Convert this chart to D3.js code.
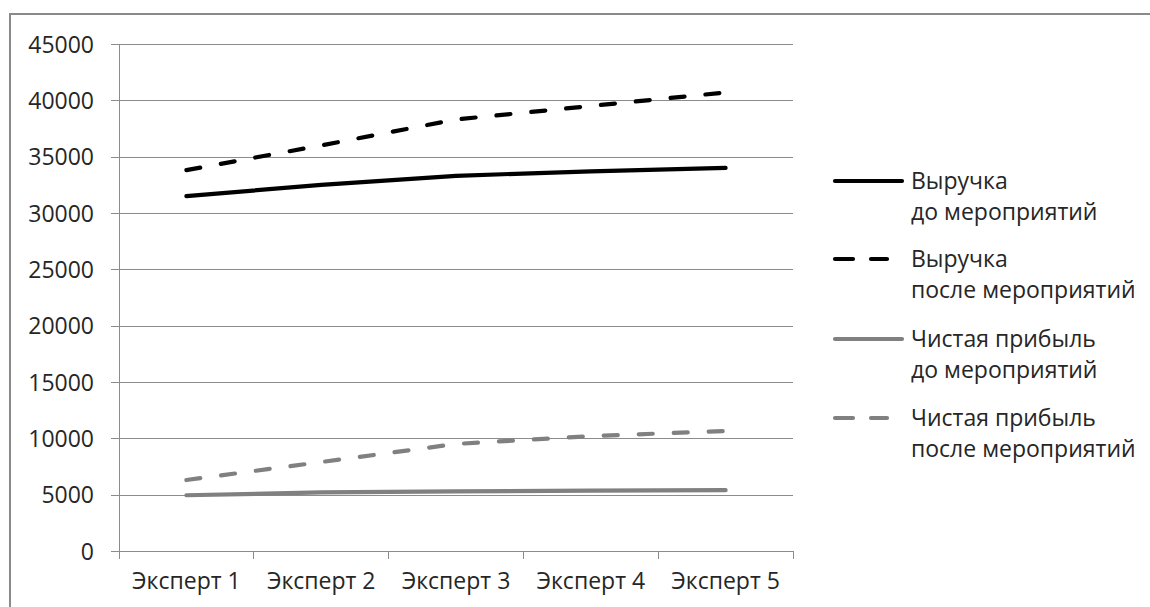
<!DOCTYPE html>
<html>
<head>
<meta charset="utf-8">
<script src="https://cdn.jsdelivr.net/npm/d3@7"></script>
<style>
  html, body { margin: 0; padding: 0; background: #fff; overflow: hidden; }
  svg { display: block; }
  text { font-family: "Open Sans", "Noto Sans", sans-serif; fill: #262626; }
</style>
</head>
<body>
<svg id="chart" width="1150" height="607"></svg>
<script>
// Experts on the horizontal axis
const categories = ["Эксперт 1", "Эксперт 2", "Эксперт 3", "Эксперт 4", "Эксперт 5"];

// Series values per expert
const revenueBefore = [31500, 32500, 33300, 33700, 34000];
const revenueAfter  = [33800, 36000, 38300, 39500, 40700];
const profitBefore  = [4950, 5200, 5300, 5350, 5400];
const profitAfter   = [6300, 7900, 9500, 10200, 10650];

// Vertical axis ticks
const yTicks = [0, 5000, 10000, 15000, 20000, 25000, 30000, 35000, 40000, 45000];

// Legend entries (two-line labels)
const seriesNames = [
  ["Выручка", "до мероприятий"],
  ["Выручка", "после мероприятий"],
  ["Чистая прибыль", "до мероприятий"],
  ["Чистая прибыль", "после мероприятий"]
];

const series = [
  { name: seriesNames[0], values: revenueBefore, color: "#000000", dash: null },
  { name: seriesNames[1], values: revenueAfter,  color: "#000000", dash: "14,21" },
  { name: seriesNames[2], values: profitBefore,  color: "#808080", dash: null },
  { name: seriesNames[3], values: profitAfter,   color: "#808080", dash: "14,21" }
];

const svg = d3.select("#chart");
const plot = { left: 119, right: 793, top: 44, bottom: 551 };

// Outer chart frame (top and left edges; the rest runs off the page)
const frame = svg.append("path")
  .attr("d", d3.line()([[10, 620], [10, 14], [1170, 14]]))
  .attr("fill", "none")
  .attr("stroke", "#8a8a8a").attr("stroke-width", 2);

const x = d3.scaleBand().domain(categories).range([plot.left, plot.right]).padding(0);
const y = d3.scaleLinear().domain([0, 45000]).range([plot.bottom, plot.top]);
const cx = c => x(c) + x.bandwidth() / 2;

// Horizontal gridlines with left tick marks
const yAxis = d3.axisLeft(y).tickValues(yTicks)
  .tickSize(-(plot.right - plot.left)).tickFormat(d => d);
const gy = svg.append("g").attr("transform", `translate(${plot.left},0)`).call(yAxis);
gy.select(".domain").remove();
gy.selectAll(".tick line")
  .attr("x1", -8).attr("stroke", "#8c8c8c").attr("stroke-width", 1)
  .attr("shape-rendering", "crispEdges");
gy.selectAll(".tick text")
  .attr("x", -25).attr("dy", "0.35em")
  .style("font-size", "23px").style("font-family", "'Open Sans', sans-serif")
  .attr("fill", "#262626");

// Vertical axis line
svg.append("line")
  .attr("x1", plot.left).attr("x2", plot.left)
  .attr("y1", plot.top).attr("y2", plot.bottom)
  .attr("stroke", "#8c8c8c").attr("shape-rendering", "crispEdges");

// Category tick marks at band edges
const edges = categories.map(c => x(c)).concat([x(categories[categories.length - 1]) + x.bandwidth()]);
svg.append("g").selectAll("line").data(edges).join("line")
  .attr("x1", d => d).attr("x2", d => d)
  .attr("y1", plot.bottom).attr("y2", plot.bottom + 8)
  .attr("stroke", "#8c8c8c").attr("shape-rendering", "crispEdges");

// Category labels
svg.append("g").selectAll("text").data(categories).join("text")
  .attr("x", d => cx(d)).attr("y", 589)
  .attr("text-anchor", "middle")
  .style("font-size", "23px")
  .text(d => d);

// Series lines
const line = d3.line()
  .x((d, i) => cx(categories[i]))
  .y(d => y(d));

svg.append("g").selectAll("path").data(series).join("path")
  .attr("d", d => line(d.values))
  .attr("fill", "none")
  .attr("stroke", d => d.color)
  .attr("stroke-width", 4.2)
  .attr("stroke-linecap", "round")
  .attr("stroke-linejoin", "round")
  .attr("stroke-dasharray", d => d.dash);

// Legend
const legend = svg.append("g");
const legendY = [181, 259, 339, 418];
series.forEach((s, i) => {
  const g = legend.append("g").attr("transform", `translate(0,${legendY[i]})`);
  if (s.dash) {
    g.append("line").attr("x1", 835).attr("x2", 853).attr("y1", 0).attr("y2", 0)
      .attr("stroke", s.color).attr("stroke-width", 4.2).attr("stroke-linecap", "round");
    g.append("line").attr("x1", 871).attr("x2", 887).attr("y1", 0).attr("y2", 0)
      .attr("stroke", s.color).attr("stroke-width", 4.2).attr("stroke-linecap", "round");
  } else {
    g.append("line").attr("x1", 835).attr("x2", 902).attr("y1", 0).attr("y2", 0)
      .attr("stroke", s.color).attr("stroke-width", 4.2).attr("stroke-linecap", "round");
  }
  const t = g.append("text").attr("x", 911).attr("y", 0).style("font-size", "23px");
  t.append("tspan").attr("x", 911).attr("dy", "0.35em").text(s.name[0]);
  t.append("tspan").attr("x", 911).attr("dy", 31).text(s.name[1]);
});
</script>
</body>
</html>
